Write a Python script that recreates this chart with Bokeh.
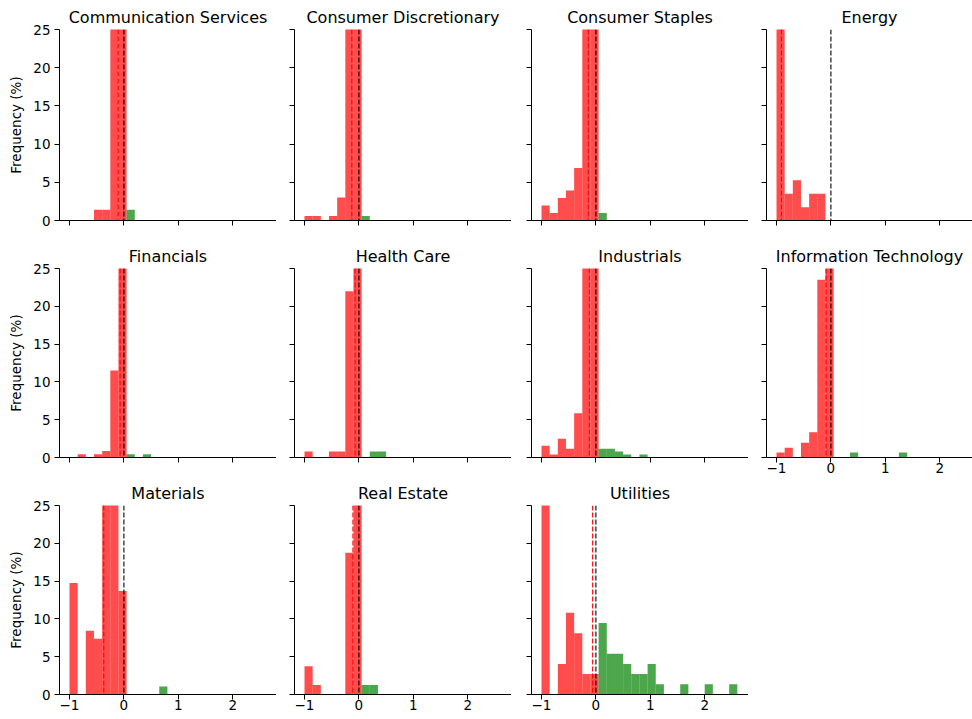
from bokeh.plotting import figure
from bokeh.layouts import row, column
from bokeh.models import Range1d, FixedTicker, Span, ColumnDataSource
from bokeh.embed import file_html
from bokeh.resources import INLINE

sectors = ["Communication Services", "Consumer Discretionary", "Consumer Staples", "Energy",
           "Financials", "Health Care", "Industrials", "Information Technology",
           "Materials", "Real Estate", "Utilities"]

# histogram bin edges (shared by all panels)
bin_edges = [-1.0, -0.85, -0.7, -0.55, -0.4, -0.25, -0.1, 0.05, 0.2, 0.35, 0.5, 0.65,
             0.8, 0.95, 1.1, 1.25, 1.4, 1.55, 1.7, 1.85, 2.0, 2.15, 2.3, 2.45, 2.6]

# frequency (%) per bin
comm_services = [0, 0, 0, 1.4, 1.4, 40.3, 55.5, 1.4, 0, 0, 0, 0, 0, 0, 0, 0, 0, 0, 0, 0, 0, 0, 0, 0]
cons_discretionary = [0.6, 0.6, 0, 0.6, 3.0, 38.0, 56.6, 0.6, 0, 0, 0, 0, 0, 0, 0, 0, 0, 0, 0, 0, 0, 0, 0, 0]
cons_staples = [1.96, 0.98, 2.94, 3.92, 6.86, 34.3, 48.06, 0.98, 0, 0, 0, 0, 0, 0, 0, 0, 0, 0, 0, 0, 0, 0, 0, 0]
energy = [82.46, 3.51, 5.26, 1.75, 3.51, 3.51, 0, 0, 0, 0, 0, 0, 0, 0, 0, 0, 0, 0, 0, 0, 0, 0, 0, 0]
financials = [0, 0.43, 0, 0.43, 0.87, 11.5, 85.91, 0.43, 0, 0.43, 0, 0, 0, 0, 0, 0, 0, 0, 0, 0, 0, 0, 0, 0]
health_care = [0.78, 0, 0, 0.78, 0.78, 22.0, 74.1, 0, 0.78, 0.78, 0, 0, 0, 0, 0, 0, 0, 0, 0, 0, 0, 0, 0, 0]
industrials = [1.56, 0.39, 2.48, 1.17, 5.86, 30.4, 54.24, 1.17, 1.17, 0.78, 0.39, 0, 0.39, 0, 0, 0, 0, 0, 0, 0, 0, 0, 0, 0]
info_tech = [0.65, 1.3, 0, 1.96, 3.34, 23.5, 67.95, 0, 0, 0.65, 0, 0, 0, 0, 0, 0.65, 0, 0, 0, 0, 0, 0, 0, 0]
materials = [14.74, 0, 8.42, 7.37, 28.4, 26.34, 13.68, 0, 0, 0, 0, 1.05, 0, 0, 0, 0, 0, 0, 0, 0, 0, 0, 0, 0]
real_estate = [3.75, 1.25, 0, 0, 0, 18.75, 73.75, 1.25, 1.25, 0, 0, 0, 0, 0, 0, 0, 0, 0, 0, 0, 0, 0, 0, 0]
utilities = [32.4, 0, 4.05, 10.8, 8.1, 2.7, 2.7, 9.46, 5.4, 5.4, 4.05, 2.7, 2.7, 4.05, 1.35, 0, 0, 1.35, 0, 0, 1.35, 0, 0, 1.35]

sector_freqs = [comm_services, cons_discretionary, cons_staples, energy, financials, health_care,
                industrials, info_tech, materials, real_estate, utilities]

# red dashed line position per sector
mean_lines = [-0.105, -0.13, -0.14, -0.91, -0.07, -0.07, -0.12, -0.09, -0.37, -0.11, -0.06]

x_ticks = [-1, 0, 1, 2]
y_ticks = [0, 5, 10, 15, 20, 25]

FONT = "DejaVu Sans"
X0 = -1.184
PX_PER_UNIT = 54.4
FRAME_H = 191


def make_panel(i):
    r, c = divmod(i, 4)
    left = [59, 18, 20, 18][c]
    frame_w = 217 if c < 3 else 206
    top = 29 if r == 0 else 25
    bottom = 21 if r < 2 else 25
    p = figure(width=left + frame_w, height=top + FRAME_H + bottom,
               x_range=Range1d(X0, X0 + frame_w / PX_PER_UNIT), y_range=Range1d(0, 25),
               output_backend="svg", toolbar_location=None, title=sectors[i],
               min_border_left=left, min_border_right=0, min_border_top=top, min_border_bottom=bottom)
    p.title.align = "center"
    p.title.text_font = FONT
    p.title.text_font_size = "16px"
    p.title.text_font_style = "normal"
    p.title.text_color = "black"
    p.title.standoff = 6
    p.outline_line_color = None
    p.xgrid.grid_line_color = None
    p.ygrid.grid_line_color = None

    freqs = sector_freqs[i]
    lefts, rights, tops, colors = [], [], [], []
    for k, f in enumerate(freqs):
        if f <= 0:
            continue
        lefts.append(bin_edges[k])
        rights.append(bin_edges[k + 1])
        tops.append(f)
        colors.append("red" if (bin_edges[k] + bin_edges[k + 1]) / 2 < 0 else "green")
    src = ColumnDataSource(dict(left=lefts, right=rights, top=tops, color=colors))
    p.quad(left="left", right="right", bottom=0, top="top", source=src,
           fill_color="color", fill_alpha=0.7, line_color=None)

    p.add_layout(Span(location=mean_lines[i], dimension="height", line_color="red",
                      line_dash="5 2", line_width=1.1))
    p.add_layout(Span(location=0, dimension="height", line_color="black",
                      line_dash="5 2", line_width=1.1))

    for ax, ticks in ((p.xaxis[0], x_ticks), (p.yaxis[0], y_ticks)):
        ax.ticker = FixedTicker(ticks=ticks)
        ax.major_tick_out = 5
        ax.major_tick_in = 0
        ax.minor_tick_out = 0
        ax.minor_tick_in = 0
        ax.axis_line_color = "black"
        ax.major_tick_line_color = "black"
        ax.major_label_text_font = FONT
        ax.major_label_text_font_size = "13.5px"
        ax.major_label_text_color = "black"
    p.xaxis.major_label_standoff = 0
    p.yaxis.major_label_standoff = 4

    if not (r == 2 or i == 7):
        p.xaxis.major_label_overrides = {t: "" for t in x_ticks}
    if c == 0:
        p.yaxis.axis_label = "Frequency (%)"
        p.yaxis.axis_label_text_font = FONT
        p.yaxis.axis_label_text_font_size = "13.5px"
        p.yaxis.axis_label_text_font_style = "normal"
        p.yaxis.axis_label_text_color = "black"
        p.yaxis.axis_label_standoff = 6
    else:
        p.yaxis.major_label_overrides = {t: "" for t in y_ticks}
        p.yaxis.major_label_standoff = 0
    return p


panels = [make_panel(i) for i in range(len(sectors))]
layout = column(row(*panels[0:4]), row(*panels[4:8]), row(*panels[8:11]))

open("out.html", "w").write(file_html(layout, INLINE))
